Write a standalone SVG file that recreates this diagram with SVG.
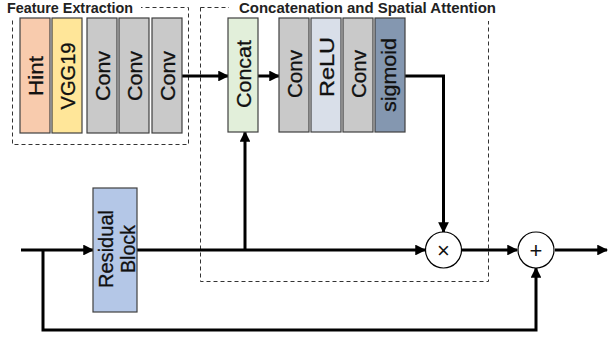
<svg xmlns="http://www.w3.org/2000/svg" width="608" height="339" viewBox="0 0 608 339">
<defs>
<marker id="ah" viewBox="0 0 10 10" refX="9" refY="5" markerWidth="3.6" markerHeight="3.6" orient="auto" markerUnits="strokeWidth">
<path d="M0,0 L10,5 L0,10 z" fill="#000"/>
</marker>
<style>
.blk{stroke:#404040;stroke-width:1.2}
.lbl{font-family:"Liberation Sans",Arial,sans-serif;font-size:21px;fill:#111;text-anchor:middle;stroke:#111;stroke-width:0.3}
.ttl{font-family:"Liberation Sans",Arial,sans-serif;font-size:15px;font-weight:bold;fill:#222}
.dash{fill:none;stroke:#333;stroke-width:1;stroke-dasharray:4,3}
.ar{fill:none;stroke:#000;stroke-width:3;marker-end:url(#ah)}
.op{fill:#fff;stroke:#000;stroke-width:1.2}
.sym{font-family:"Liberation Sans",Arial,sans-serif;font-size:22px;fill:#111;text-anchor:middle}
</style>
</defs>
<rect width="608" height="339" fill="#fff"/>
<g id="groups">
<rect class="dash" x="12.5" y="7.5" width="176" height="137"/>
<rect class="dash" x="200.5" y="7.5" width="288" height="274"/>
<rect x="4" y="0" width="137" height="19" fill="#fff"/>
<rect x="229" y="0" width="272" height="21" fill="#fff"/>
<text class="ttl" x="7" y="13" textLength="126" lengthAdjust="spacingAndGlyphs">Feature Extraction</text>
<text class="ttl" x="239" y="13" textLength="257" lengthAdjust="spacingAndGlyphs">Concatenation and Spatial Attention</text>
</g>
<g id="connectors">
<line class="ar" x1="182" y1="76" x2="228" y2="76"/>
<line class="ar" x1="258" y1="76" x2="279" y2="76"/>
<polyline class="ar" points="405,76 443.5,76 443.5,232"/>
<line class="ar" x1="21" y1="250" x2="93" y2="250"/>
<line class="ar" x1="137" y1="250" x2="425" y2="250"/>
<line class="ar" x1="245" y1="250" x2="245" y2="132"/>
<line class="ar" x1="462" y1="250" x2="517" y2="250"/>
<line class="ar" x1="555" y1="250" x2="607" y2="250"/>
<polyline class="ar" points="43,250 43,330 536,330 536,268"/>
</g>
<g id="hint"><rect class="blk" x="20" y="18" width="30" height="115" fill="#f8cbad"/><text class="lbl" transform="translate(35,76) rotate(-90)" y="7.5" textLength="40" lengthAdjust="spacingAndGlyphs">Hint</text></g>
<g id="vgg19"><rect class="blk" x="52" y="18" width="30" height="115" fill="#ffe699"/><text class="lbl" transform="translate(67,76) rotate(-90)" y="7.5" textLength="67" lengthAdjust="spacingAndGlyphs">VGG19</text></g>
<g id="conv1"><rect class="blk" x="87" y="18" width="30" height="115" fill="#c9c9c9"/><text class="lbl" transform="translate(102,76) rotate(-90)" y="7.5" textLength="50" lengthAdjust="spacingAndGlyphs">Conv</text></g>
<g id="conv2"><rect class="blk" x="119" y="18" width="30" height="115" fill="#c9c9c9"/><text class="lbl" transform="translate(134,76) rotate(-90)" y="7.5" textLength="50" lengthAdjust="spacingAndGlyphs">Conv</text></g>
<g id="conv3"><rect class="blk" x="152" y="18" width="30" height="115" fill="#c9c9c9"/><text class="lbl" transform="translate(167,76) rotate(-90)" y="7.5" textLength="50" lengthAdjust="spacingAndGlyphs">Conv</text></g>
<g id="concat"><rect class="blk" x="228" y="18" width="30" height="114" fill="#e2efda"/><text class="lbl" transform="translate(243,74) rotate(-90)" y="7.5" textLength="68" lengthAdjust="spacingAndGlyphs">Concat</text></g>
<g id="conv4"><rect class="blk" x="279" y="18" width="30" height="114" fill="#c9c9c9"/><text class="lbl" transform="translate(294,74) rotate(-90)" y="7.5" textLength="48" lengthAdjust="spacingAndGlyphs">Conv</text></g>
<g id="relu"><rect class="blk" x="311" y="18" width="30" height="114" fill="#d9dfe9"/><text class="lbl" transform="translate(326,67) rotate(-90)" y="7.5" textLength="60" lengthAdjust="spacingAndGlyphs">ReLU</text></g>
<g id="conv5"><rect class="blk" x="343" y="18" width="30" height="114" fill="#c9c9c9"/><text class="lbl" transform="translate(358,74) rotate(-90)" y="7.5" textLength="48" lengthAdjust="spacingAndGlyphs">Conv</text></g>
<g id="sigmoid"><rect class="blk" x="375" y="18" width="30" height="114" fill="#8497b0"/><text class="lbl" transform="translate(390,75) rotate(-90)" y="6" textLength="74" lengthAdjust="spacingAndGlyphs">sigmoid</text></g>
<g id="residual"><rect class="blk" x="93" y="188" width="44" height="124" fill="#b4c7e7"/><text class="lbl" transform="translate(113,249) rotate(-90)" textLength="78" lengthAdjust="spacingAndGlyphs">Residual</text><text class="lbl" transform="translate(135,249) rotate(-90)" textLength="48" lengthAdjust="spacingAndGlyphs">Block</text></g>
<g id="mul"><circle class="op" cx="443.5" cy="250" r="18"/><text class="sym" x="443.5" y="258">×</text></g>
<g id="add"><circle class="op" cx="536" cy="250" r="18"/><text class="sym" x="536" y="258">+</text></g>
</svg>
